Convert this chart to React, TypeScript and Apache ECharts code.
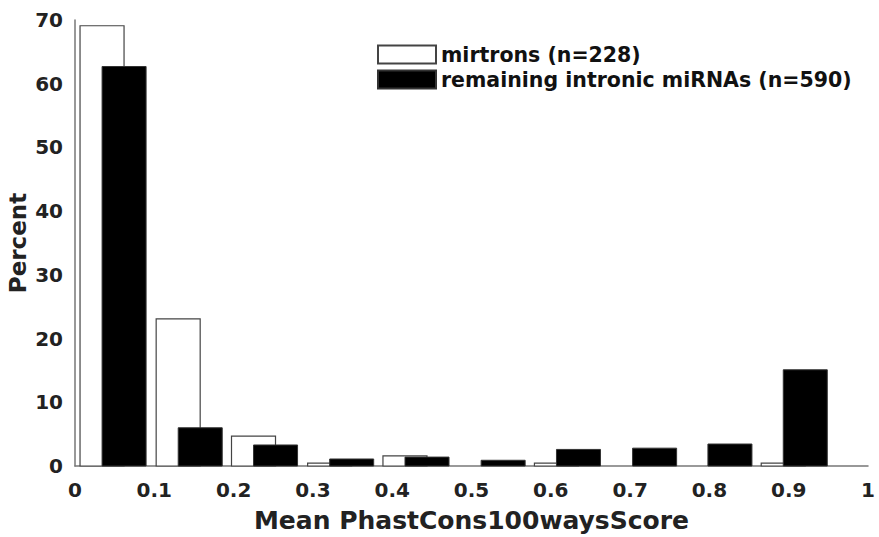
import React, { useEffect, useRef } from "react";
import * as echarts from "echarts";

// Bin centers (Mean PhastCons100waysScore)
const binCenters = [0.048, 0.144, 0.239, 0.335, 0.43, 0.526, 0.621, 0.717, 0.812, 0.907];
// Percent values per bin
const mirtrons = [69.1, 23.1, 4.7, 0.44, 1.6, 0, 0.44, 0, 0, 0.44];
const remaining = [62.7, 6.0, 3.3, 1.1, 1.4, 0.9, 2.6, 2.8, 3.45, 15.1];
const seriesNames = ["mirtrons (n=228)", "remaining intronic miRNAs (n=590)"];
const xTicks = ["0", "0.1", "0.2", "0.3", "0.4", "0.5", "0.6", "0.7", "0.8", "0.9", "1"];

const BAR_W = 0.0555;
const OFFSET = 0.0139;
const FONT = "DejaVu Sans";

function makeRender(offset: number) {
  return (params: any, api: any) => {
    const x = api.value(0);
    const y = api.value(1);
    if (!(y > 0)) return null;
    const p0 = api.coord([x + offset - BAR_W / 2, y]);
    const p1 = api.coord([x + offset + BAR_W / 2, 0]);
    return {
      type: "rect",
      shape: { x: p0[0], y: p0[1], width: p1[0] - p0[0], height: p1[1] - p0[1] },
      style: api.style(),
    };
  };
}

export default function App() {
  const ref = useRef<HTMLDivElement>(null);
  useEffect(() => {
    if (!ref.current) return;
    const chart = echarts.init(ref.current, null, { renderer: "svg" });
    chart.setOption({
      animation: false,
      backgroundColor: "#ffffff",
      textStyle: { fontFamily: FONT },
      grid: { left: 75, right: 11, top: 20, bottom: 71, containLabel: false, outerBoundsMode: "none" },
      legend: {
        orient: "vertical",
        left: 372,
        top: 39,
        itemWidth: 58,
        itemHeight: 18,
        itemGap: 4,
        icon: "rect",
        textStyle: { fontFamily: FONT, fontWeight: "bold", fontSize: 20.5, color: "#111" },
        data: seriesNames,
      },
      xAxis: {
        type: "value",
        min: 0,
        max: 1,
        interval: 0.1,
        splitLine: { show: false },
        axisTick: { show: false },
        axisLine: { show: true, onZero: false, lineStyle: { color: "#777", width: 1.5 } },
        axisLabel: {
          margin: 14,
          fontFamily: FONT,
          fontWeight: "bold",
          fontSize: 20,
          color: "#222",
          formatter: (v: number) => xTicks[Math.round(v * 10)],
        },
        name: "Mean PhastCons100waysScore",
        nameLocation: "middle",
        nameGap: 42,
        nameTextStyle: { fontFamily: FONT, fontWeight: "bold", fontSize: 25, color: "#222" },
      },
      yAxis: {
        type: "value",
        min: 0,
        max: 70,
        interval: 10,
        splitLine: { show: false },
        axisTick: { show: false },
        axisLine: { show: true, lineStyle: { color: "#777", width: 1.5 } },
        axisLabel: {
          margin: 12,
          fontFamily: FONT,
          fontWeight: "bold",
          fontSize: 20,
          color: "#222",
        },
        name: "Percent",
        nameLocation: "middle",
        nameGap: 46,
        nameMoveOverlap: false,
        nameRotate: 90,
        nameTextStyle: { fontFamily: FONT, fontWeight: "bold", fontSize: 23, color: "#222" },
      },
      series: [
        {
          name: seriesNames[0],
          type: "custom",
          renderItem: makeRender(-OFFSET),
          itemStyle: { color: "#ffffff", borderColor: "#444", borderWidth: 1.2 },
          encode: { x: 0, y: 1 },
          data: binCenters.map((c, i) => [c, mirtrons[i]]),
          z: 2,
        },
        {
          name: seriesNames[1],
          type: "custom",
          renderItem: makeRender(OFFSET),
          itemStyle: { color: "#000000", borderColor: "#333", borderWidth: 1 },
          encode: { x: 0, y: 1 },
          data: binCenters.map((c, i) => [c, remaining[i]]),
          z: 3,
        },
      ],
    });
    return () => chart.dispose();
  }, []);
  return (
    <div
      ref={ref}
      style={{ position: "fixed", left: 0, top: 0, width: 879, height: 537, background: "#fff" }}
    />
  );
}
